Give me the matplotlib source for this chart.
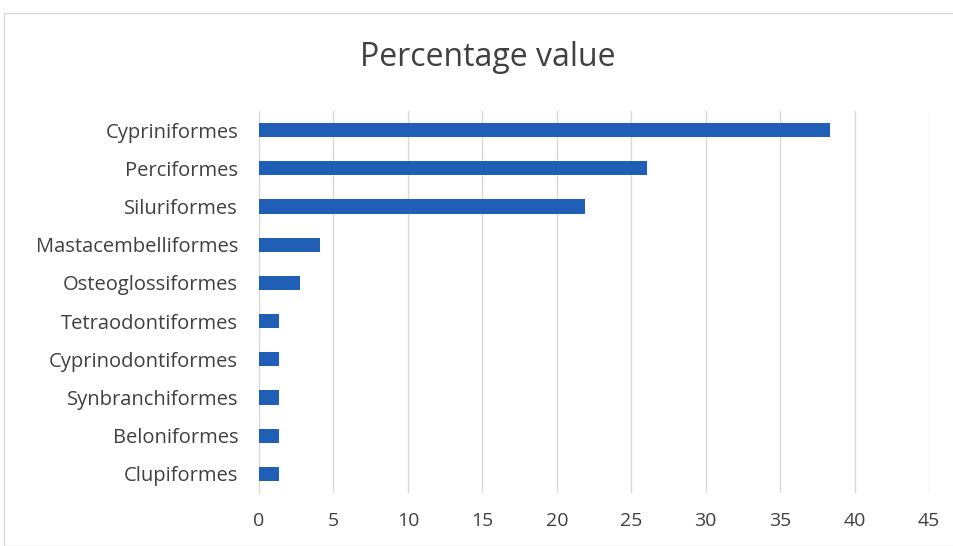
import matplotlib
matplotlib.use('Agg')
import matplotlib.pyplot as plt
from matplotlib.patches import Rectangle

plt.rcParams['font.family'] = ['Open Sans', 'DejaVu Sans']

orders = ['Cypriniformes', 'Perciformes', 'Siluriformes', 'Mastacembelliformes',
          'Osteoglossiformes', 'Tetraodontiformes', 'Cyprinodontiformes',
          'Synbranchiformes', 'Beloniformes', 'Clupiformes']
percent = [38.36, 26.03, 21.92, 4.11, 2.74, 1.37, 1.37, 1.37, 1.37, 1.37]
xticks = [0, 5, 10, 15, 20, 25, 30, 35, 40, 45]

W, H = 954, 546
fig = plt.figure(figsize=(W / 100, H / 100), dpi=100)
fig.patch.set_facecolor('white')

# chart border like the excel chart area
fig.add_artist(Rectangle((4 / W, 0), 1, 1 - 13 / H, transform=fig.transFigure,
                         fill=False, edgecolor='#d9d9d9', linewidth=1))

ax = fig.add_axes([259 / W, 1 - 493 / H, (929 - 259) / W, (493 - 111) / H])

pos = list(range(len(orders)))
ax.barh(pos, percent, height=0.37, color='#1F5FB5', zorder=3)
ax.set_yticks(pos)
ax.set_yticklabels(orders, fontsize=14.5, color='#404040')
ax.set_ylim(len(orders) - 0.5, -0.5)

ax.set_xlim(0, 45)
ax.set_xticks(xticks)
ax.set_xticklabels([str(t) for t in xticks], fontsize=14, color='#404040')
ax.grid(axis='x', color='#d9d9d9', linewidth=1, zorder=0)
ax.tick_params(length=0)
ax.tick_params(axis='y', pad=15)
ax.tick_params(axis='x', pad=14)

for s in ['top', 'right', 'bottom']:
    ax.spines[s].set_visible(False)
ax.spines['left'].set_color('#d9d9d9')

fig.text(488 / W, 1 - 58 / H, 'Percentage value', fontsize=23, color='#404040',
         ha='center', va='center')

fig.savefig('out.png', dpi=100)
